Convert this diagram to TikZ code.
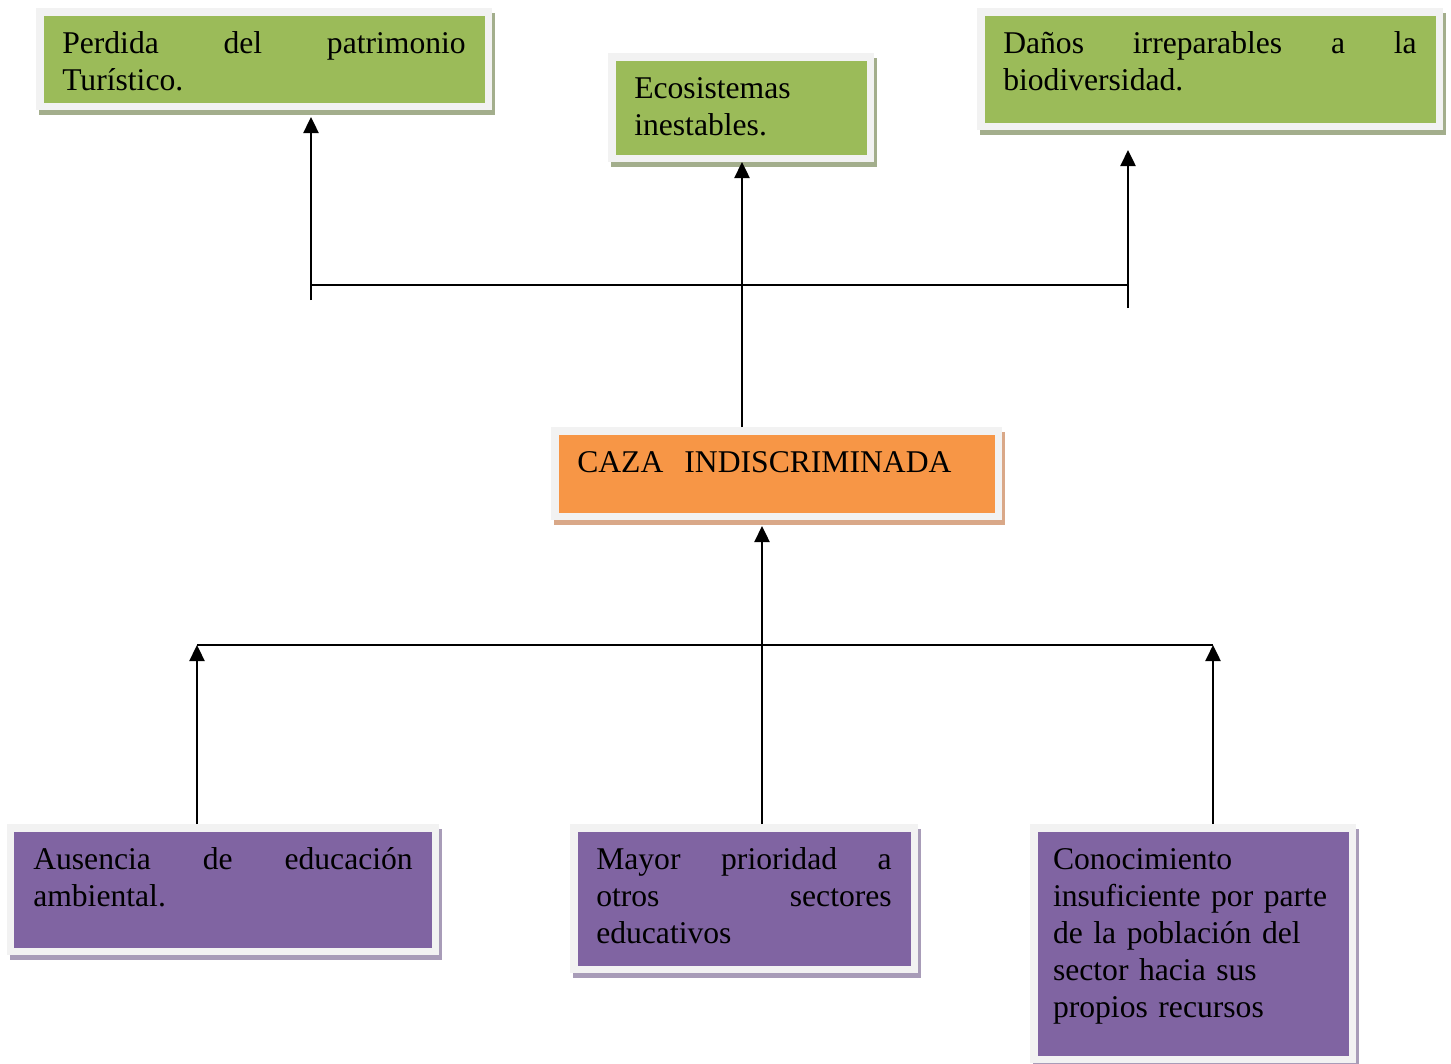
\documentclass[tikz,border=0pt]{standalone}
\usepackage{fontspec}
\setmainfont{Liberation Serif}
\usepackage{xcolor}
\usetikzlibrary{arrows.meta,shadows}
\definecolor{boxgreen}{HTML}{9BBB59}
\definecolor{boxorange}{HTML}{F79646}
\definecolor{boxpurple}{HTML}{8064A2}
\definecolor{framegray}{HTML}{F2F2F2}
\definecolor{shgreen}{HTML}{A3AE8C}
\definecolor{shorange}{HTML}{D9A888}
\definecolor{shpurple}{HTML}{A89CB8}

\begin{document}
\begin{tikzpicture}[box/.style={draw=framegray,line width=0.15cm,outer sep=0.075cm,anchor=north west,inner xsep=0.45cm,inner ysep=0pt,text height=0.84cm,align=justify,font=\fontsize{18}{21}\selectfont},
    effectbox/.style={box,fill=boxgreen,drop shadow={shadow xshift=0.06cm,shadow yshift=-0.1cm,fill=shgreen,draw=shgreen,line width=0.15cm,opacity=1}},
    problembox/.style={box,fill=boxorange,drop shadow={shadow xshift=0.06cm,shadow yshift=-0.1cm,fill=shorange,draw=shorange,line width=0.15cm,opacity=1}},
    causebox/.style={box,fill=boxpurple,drop shadow={shadow xshift=0.06cm,shadow yshift=-0.1cm,fill=shpurple,draw=shpurple,line width=0.15cm,opacity=1}},
    link/.style={line width=1.4pt},
    arr/.style={link,-{Triangle[length=0.32cm,width=0.3cm]}}]
  \useasboundingbox (0,0) rectangle (29.02,-21.26);
  \node[effectbox,minimum width=8.97cm,text width=8.07cm,text depth=1.05cm] (perdida) at (0.72,-0.16) {Perdida del patrimonio\linebreak Turístico.};
  \node[effectbox,align=left,minimum width=5.17cm,text width=4.27cm,text depth=1.19cm] (ecosistemas) at (12.16,-1.06) {Ecosistemas\\ inestables.};
  \node[effectbox,minimum width=9.17cm,text width=8.27cm,text depth=1.45cm] (danos) at (19.54,-0.16) {Daños irreparables a la\linebreak biodiversidad.};
  \node[problembox,align=left,minimum width=8.87cm,text width=7.97cm,text depth=0.87cm] (caza) at (11.02,-8.54) {CAZA~~INDISCRIMINADA};
  \node[causebox,minimum width=8.49cm,text width=7.59cm,text depth=1.63cm] (ausencia) at (0.14,-16.48) {Ausencia de educación\linebreak ambiental.};
  \node[causebox,minimum width=6.81cm,text width=5.91cm,text depth=1.99cm] (mayor) at (11.40,-16.48) {Mayor prioridad a\linebreak otros sectores\linebreak educativos};
  \node[causebox,align=left,inner xsep=0.38cm,minimum width=6.37cm,text width=5.6cm,text depth=3.79cm] (conocimiento) at (20.60,-16.48) {Conocimiento\\ insuficiente por parte\\ de la población del\\ sector hacia sus\\ propios recursos};

  \coordinate (tl) at (6.22,-5.70);
  \coordinate (tr) at (22.56,-5.70);
  \coordinate (tlend) at (6.22,-6.00);
  \coordinate (trend) at (22.56,-6.16);
  \coordinate (tc) at (14.84,-5.70);
  \draw[link] (tl) -- (tr);
  \draw[arr,shorten >=0.14cm] (tlend) -- (tlend |- perdida.south);
  \draw[arr,shorten >=0.4cm] (trend) -- (trend |- danos.south);
  \draw[arr] (tc |- caza.north) -- (tc |- ecosistemas.south);

  \coordinate (bl) at (3.94,-12.90);
  \coordinate (br) at (24.26,-12.90);
  \coordinate (bc) at (15.24,-12.90);
  \draw[link] (bl) -- (br);
  \draw[arr] (bl |- ausencia.north) -- (bl);
  \draw[arr] (br |- conocimiento.north) -- (br);
  \draw[arr,shorten >=0.12cm] (bc |- mayor.north) -- (bc |- caza.south);
\end{tikzpicture}
\end{document}
